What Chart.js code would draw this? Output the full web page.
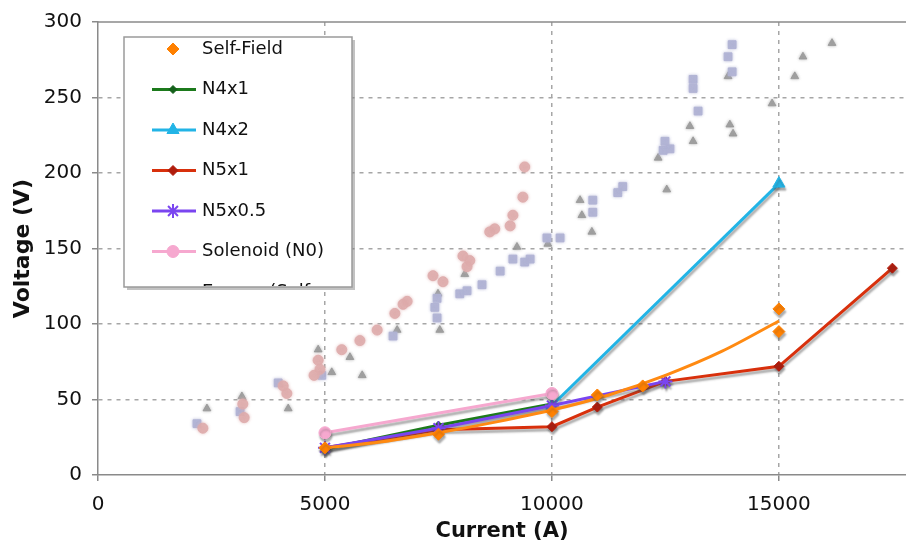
<!DOCTYPE html>
<html>
<head>
<meta charset="utf-8">
<script src="https://cdn.jsdelivr.net/npm/chart.js@4.4.1/dist/chart.umd.min.js"></script>
<style>
  html, body { margin: 0; padding: 0; background: #fff; }
  #wrap { width: 906px; height: 548px; }
</style>
</head>
<body>
<div id="wrap"><canvas id="ivChart" width="906" height="548"></canvas></div>
<script>
// axis ticks
const currentTicks = [0, 5000, 10000, 15000];
const voltageTicks = [0, 50, 100, 150, 200, 250, 300];

// measured series (current in A, voltage in V)
const selfFieldI = [5000, 7500, 10000, 11000, 12000, 15000, 15000];
const selfFieldV = [18, 27, 42, 53, 59, 110, 95];
const n4x1I = [5000, 7500, 10000];
const n4x1V = [17, 33, 47];
const n4x2I = [10000, 15000];
const n4x2V = [46, 193];
const n5x1I = [5000, 7500, 10000, 11000, 12500, 15000, 17500];
const n5x1V = [18, 30, 32, 45, 62, 72, 137];
const n5x05I = [5000, 7500, 10000, 12500];
const n5x05V = [18, 31, 46, 62];
const solenoidI = [5000, 10000];
const solenoidV = [28, 54];
const exponI = [5000, 6250, 7500, 8750, 10000, 11250, 12500, 13750, 15000];
const exponV = [18, 22, 28, 35, 43, 53, 66, 82, 102];

// older runs, shown faded behind
const archiveRedI = [2310, 3220, 3190, 4080, 4160, 4850, 4890, 4760, 5370, 5770, 6150, 6540, 6720, 6810,
  7380, 7600, 8040, 8130, 8190, 8630, 8740, 9080, 9140, 9360, 9400];
const archiveRedV = [31, 38, 47, 59, 54, 76, 70, 66, 83, 89, 96, 107, 113, 115,
  132, 128, 145, 138, 142, 161, 163, 165, 172, 184, 204];
const archiveBlueI = [2180, 3130, 3970, 4930, 6500, 7470, 7420, 7470, 7970, 8130, 8460, 8860, 9140, 9400,
  9520, 9890, 10180, 10900, 10900, 11450, 11560, 12450, 12600, 12490, 13110, 13110, 13220, 13970, 13880, 13970];
const archiveBlueV = [34, 42, 61, 66, 92, 117, 111, 104, 120, 122, 126, 135, 143, 141,
  143, 157, 157, 182, 174, 187, 191, 215, 216, 221, 262, 256, 241, 285, 277, 267];
const archiveGrayI = [2400, 3170, 4190, 4850, 5150, 5550, 5820, 6590, 7490, 7530, 8080, 9230, 9910,
  10620, 10660, 10880, 12340, 12530, 13040, 13110, 13920, 13990, 13880, 14850, 15350, 15530, 16170];
const archiveGrayV = [44, 52, 44, 83, 68, 78, 66, 96, 120, 96, 133, 151, 153,
  182, 172, 161, 210, 189, 231, 221, 232, 226, 264, 246, 264, 277, 286];

const pts = (xs, ys) => xs.map((x, i) => ({ x: x, y: ys[i] }));

function lineSet(label, xs, ys, color, style, radius, pointColor, order) {
  return {
    label: label,
    data: pts(xs, ys),
    showLine: true,
    borderColor: color,
    backgroundColor: pointColor || color,
    borderWidth: 3,
    pointStyle: style,
    pointRadius: radius,
    pointBackgroundColor: pointColor || color,
    pointBorderColor: pointColor || color,
    pointBorderWidth: style === 'star' ? 2 : 1,
    shadow: true,
    order: order
  };
}

function faded(xs, ys, style, color, radius) {
  return {
    data: pts(xs, ys),
    showLine: false,
    pointStyle: style,
    pointRadius: radius,
    pointBackgroundColor: color,
    pointBorderColor: color,
    pointBorderWidth: 1,
    inLegend: false,
    soft: color,
    order: 20
  };
}

const datasets = [
  {
    label: 'Self-Field',
    data: pts(selfFieldI, selfFieldV),
    showLine: false,
    pointStyle: 'rectRot',
    pointRadius: 6,
    pointBackgroundColor: '#ff8000',
    pointBorderColor: '#ff8000',
    backgroundColor: '#ff8000',
    borderColor: '#ff8000',
    shadow: true,
    order: 0
  },
  lineSet('N4x1', n4x1I, n4x1V, '#1c7a1c', 'rectRot', 4, '#14601a', 6),
  lineSet('N4x2', n4x2I, n4x2V, '#22b4e6', 'triangle', 7, null, 5),
  lineSet('N5x1', n5x1I, n5x1V, '#d8300c', 'rectRot', 5, '#b01c0c', 4),
  lineSet('N5x0.5', n5x05I, n5x05V, '#7a45f0', 'star', 7, null, 3),
  lineSet('Solenoid (N0)', solenoidI, solenoidV, '#f6a8cf', 'circle', 6, null, 2),
  {
    label: 'Expon. (Self-Field)',
    data: pts(exponI, exponV),
    showLine: true,
    borderColor: '#ff8a12',
    borderWidth: 3,
    pointRadius: 0,
    cubicInterpolationMode: 'monotone',
    order: 1
  },
  faded(archiveRedI, archiveRedV, 'circle', 'rgba(222,172,172,0.85)', 5),
  faded(archiveBlueI, archiveBlueV, 'rect', 'rgba(176,179,212,0.9)', 5.5),
  faded(archiveGrayI, archiveGrayV, 'triangle', 'rgba(150,150,150,0.8)', 4.5)
];

// drop shadow under the measured series, soft edge on the faded ones
const shadowPlugin = {
  id: 'seriesShadow',
  beforeDatasetDraw(chart, args) {
    const ds = chart.data.datasets[args.index];
    const ctx = chart.ctx;
    ctx.save();
    if (ds.shadow) {
      ctx.shadowColor = 'rgba(70,70,70,0.45)';
      ctx.shadowOffsetX = 1;
      ctx.shadowOffsetY = 3;
      ctx.shadowBlur = 2;
    } else if (ds.soft) {
      ctx.shadowColor = ds.soft;
      ctx.shadowBlur = 3;
    }
  },
  afterDatasetDraw(chart) {
    chart.ctx.restore();
  }
};

// solid top frame line
const frameTop = {
  id: 'frameTop',
  beforeDatasetsDraw(chart) {
    const { ctx, chartArea } = chart;
    ctx.save();
    ctx.strokeStyle = '#8a8a8a';
    ctx.lineWidth = 1.5;
    ctx.beginPath();
    ctx.moveTo(chartArea.left, chartArea.top);
    ctx.lineTo(chartArea.right, chartArea.top);
    ctx.stroke();
    ctx.restore();
  }
};

// boxed legend inside the plot, clipped at its lower edge
const boxLegend = {
  id: 'boxLegend',
  afterDraw(chart) {
    const ctx = chart.ctx;
    const box = { x: 124, y: 37, w: 228, h: 250 };
    const textX = 202;
    ctx.save();
    ctx.fillStyle = 'rgba(120,120,120,0.45)';
    ctx.fillRect(box.x + 3, box.y + 3, box.w, box.h);
    ctx.fillStyle = '#fff';
    ctx.fillRect(box.x, box.y, box.w, box.h);
    ctx.strokeStyle = '#9a9a9a';
    ctx.lineWidth = 1.5;
    ctx.strokeRect(box.x, box.y, box.w, box.h);
    ctx.beginPath();
    ctx.rect(box.x + 1, box.y + 1, box.w - 2, box.h - 2);
    ctx.clip();

    ctx.font = '18px "DejaVu Sans", Verdana, sans-serif';
    ctx.textBaseline = 'middle';
    ctx.textAlign = 'left';
    const maxW = box.x + box.w - textX - 6;

    const items = chart.data.datasets.filter(d => d.inLegend !== false);
    items.forEach((ds, i) => {
      const y = 49 + i * 40.5;
      if (ds.showLine) {
        ctx.strokeStyle = ds.borderColor;
        ctx.lineWidth = 3;
        ctx.beginPath();
        ctx.moveTo(152, y);
        ctx.lineTo(196, y);
        ctx.stroke();
      }
      if (ds.pointRadius > 0) {
        ctx.fillStyle = ds.pointBackgroundColor;
        ctx.strokeStyle = ds.pointBorderColor;
        ctx.lineWidth = ds.pointStyle === 'star' ? 2 : 1;
        Chart.helpers.drawPoint(ctx, {
          pointStyle: ds.pointStyle,
          radius: ds.pointRadius,
          rotation: 0,
          borderWidth: ctx.lineWidth
        }, 173, y);
      }
      // long labels wrap after a hyphen
      let lines = [ds.label];
      if (ctx.measureText(ds.label).width > maxW && ds.label.indexOf('-') > 0) {
        const cut = ds.label.indexOf('-') + 1;
        lines = [ds.label.slice(0, cut), ds.label.slice(cut)];
      }
      ctx.fillStyle = '#111';
      lines.forEach((t, k) => ctx.fillText(t, textX, y + k * 21));
    });
    ctx.restore();
  }
};

const axisFont = '"DejaVu Sans", Verdana, sans-serif';

new Chart(document.getElementById('ivChart'), {
  type: 'scatter',
  data: { datasets: datasets },
  options: {
    responsive: false,
    animation: false,
    devicePixelRatio: 1,
    layout: { autoPadding: false, padding: { left: 0, right: 0, top: 14, bottom: 0 } },
    plugins: {
      legend: { display: false },
      tooltip: { enabled: false }
    },
    scales: {
      x: {
        type: 'linear',
        min: 0,
        max: 17800,
        afterBuildTicks: scale => { scale.ticks = currentTicks.map(v => ({ value: v })); },
        afterFit: scale => { scale.height = 73; scale.paddingLeft = 0; scale.paddingRight = 0; },
        grid: {
          color: ctx => (ctx.tick && ctx.tick.value === 0) ? 'rgba(0,0,0,0)' : '#a6a6a6',
          lineWidth: 1.5, tickLength: 6, tickColor: '#8a8a8a', tickWidth: 1.5
        },
        border: { display: true, color: '#8a8a8a', width: 1.5, dash: [4, 5] },
        ticks: {
          color: '#111',
          padding: 12,
          maxRotation: 0,
          callback: v => String(v),
          font: { family: axisFont, size: 20 }
        },
        title: {
          display: true,
          text: 'Current (A)',
          color: '#111',
          padding: { top: 0, bottom: 4 },
          font: { family: axisFont, size: 21, weight: 'bold' }
        }
      },
      y: {
        type: 'linear',
        min: 0,
        max: 300,
        afterBuildTicks: scale => { scale.ticks = voltageTicks.map(v => ({ value: v })); },
        afterFit: scale => { scale.width = 98; },
        grid: {
          color: ctx => (ctx.tick && (ctx.tick.value === 0 || ctx.tick.value === 300)) ? 'rgba(0,0,0,0)' : '#a6a6a6',
          lineWidth: 1.5, tickLength: 6, tickColor: '#8a8a8a', tickWidth: 1.5
        },
        border: { display: true, color: '#8a8a8a', width: 1.5, dash: [4, 5] },
        ticks: {
          color: '#111',
          padding: 10,
          callback: v => String(v),
          font: { family: axisFont, size: 20 }
        },
        title: {
          display: true,
          text: 'Voltage (V)',
          color: '#111',
          padding: { top: 10, bottom: 0 },
          font: { family: axisFont, size: 22, weight: 'bold' }
        }
      }
    }
  },
  plugins: [shadowPlugin, frameTop, boxLegend]
});
</script>
</body>
</html>
